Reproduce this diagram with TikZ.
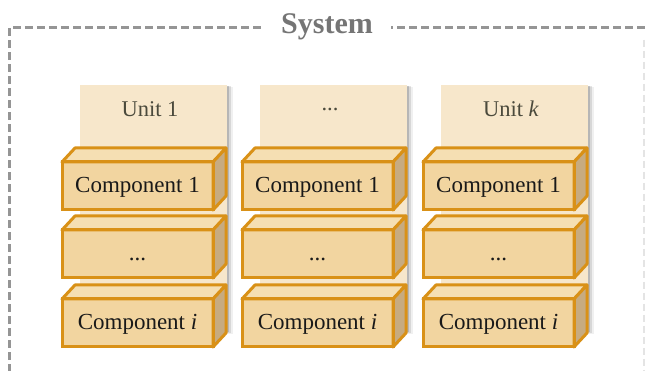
\documentclass[tikz,border=0pt]{standalone}
\usepackage{fontspec}
\setmainfont{Liberation Serif}
\newcommand{\tdots}{...}
\definecolor{frontc}{HTML}{F2D5A0}
\definecolor{topc}{HTML}{F5DFB3}
\definecolor{sidec}{HTML}{C7AB80}
\definecolor{edgec}{HTML}{D99117}
\definecolor{unitc}{HTML}{F7E7CB}
\definecolor{framec}{HTML}{959595}
\definecolor{titlec}{HTML}{757575}
\definecolor{unittext}{HTML}{4B4A3C}
\tikzset{
  frontbox/.style={draw=edgec, fill=frontc, line width=3pt, minimum width=151pt, minimum height=48pt, inner sep=0pt, outer sep=0pt, anchor=north west, font=\fontsize{23}{25}\selectfont, text=black!90, text height=16pt, text depth=3pt},
  topface/.style={draw=edgec, fill=topc, line width=3pt, line join=round},
  sideface/.style={draw=edgec, fill=sidec, line width=3pt, line join=round},
  unitbox/.style={fill=unitc, minimum width=147pt, minimum height=247pt, inner sep=0pt, anchor=north west},
  unitlabel/.style={font=\fontsize{22.5}{24}\selectfont, text=unittext},
  frameline/.style={draw=framec, line width=3pt, dash pattern=on 8pt off 4pt},
}
\begin{document}
\begin{tikzpicture}[x=1pt,y=-1pt]
\clip (0,0) rectangle (646,371);
\fill[white] (0,0) rectangle (646,371);
% frame
\coordinate (fbl) at (9,420);
\coordinate (ftl) at (9,28);
\coordinate (ftr) at (700,28);
\draw[frameline] (fbl) -- (ftl) -- (ftr);
\draw[draw=framec!25, line width=1.5pt, dash pattern=on 7pt off 4pt] (644,40) -- (644,420);
\node[fill=white, inner xsep=18pt, inner ysep=4pt, font=\bfseries\fontsize{30}{32}\selectfont, text=titlec] (title) at (327,27) {System};
% units
\foreach \x/\lab/\n in {62/Unit 1/u1, 242/\tdots/u2, 423/{Unit \textit{k}}/u3}{
  \fill[black, opacity=0.06] (\x+18+5,87) rectangle (\x+165+6,334);
  \fill[black, opacity=0.10] (\x+18+3,86) rectangle (\x+165+4,333);
  \fill[black, opacity=0.15] (\x+18+2,86) rectangle (\x+165+2,332);
  \node[unitbox] (\n) at (\x+18,85) {};
  \node[unitlabel] (\n l) at (\x+88,109) {\lab};
}
% component boxes
\foreach \x/\c in {62/a, 242/b, 423/c}{
  \foreach \y/\txt/\r in {162/Component 1/1, 230/\tdots/2, 299/{Component \textit{i}}/3}{
    \node[frontbox] (\c\r) at (\x,\y) {\txt};
    \draw[topface] (\c\r.north west) -- ++(13,-14) -- ++(151,0) -- (\c\r.north east) -- cycle;
    \draw[sideface] (\c\r.north east) -- ++(13,-14) -- ++(0,48) -- (\c\r.south east) -- cycle;
    \draw[draw=edgec, line width=3pt] (\c\r.north west) rectangle (\c\r.south east);
  }
}
\end{tikzpicture}
\end{document}
